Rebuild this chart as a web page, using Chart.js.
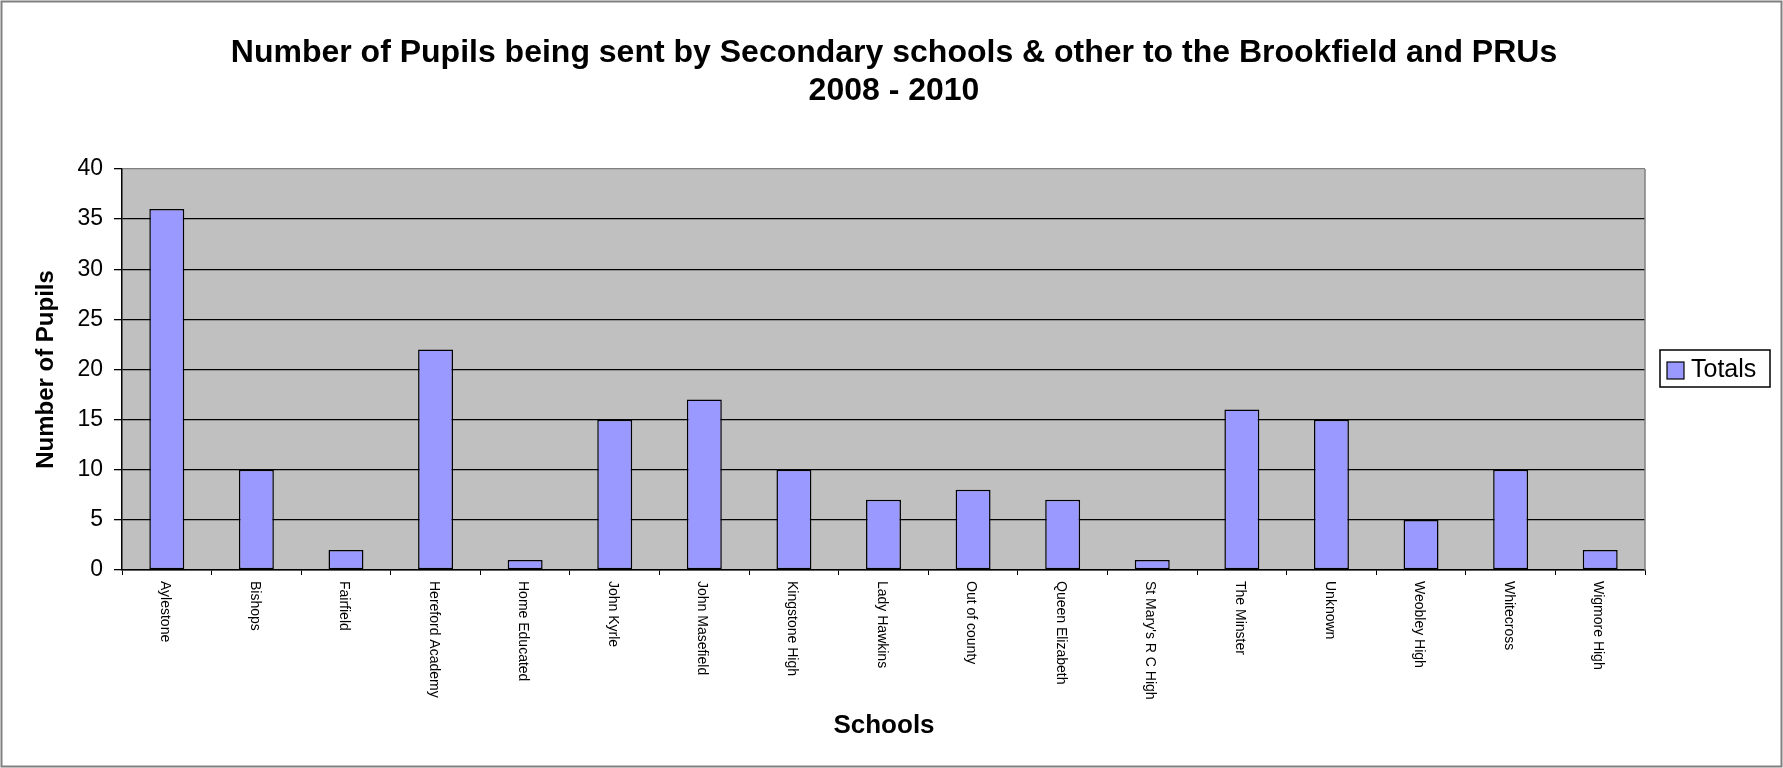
<!DOCTYPE html>
<html>
<head>
<meta charset="utf-8">
<script src="https://cdn.jsdelivr.net/npm/chart.js@4.4.0/dist/chart.umd.min.js"></script>
<style>
  html, body { margin: 0; padding: 0; background: #fff; }
  #wrap { width: 1783px; height: 768px; }
</style>
</head>
<body>
<div id="wrap"><canvas id="c" width="1783" height="768"></canvas></div>
<script>
const categories = ["Aylestone", "Bishops", "Fairfield", "Hereford Academy", "Home Educated", "John Kyrle", "John Masefield", "Kingstone High", "Lady Hawkins", "Out of county", "Queen Elizabeth", "St Mary's R C High", "The Minster", "Unknown", "Weobley High", "Whitecross", "Wigmore High"];
const totals = [36, 10, 2, 22, 1, 15, 17, 10, 7, 8, 7, 1, 16, 15, 5, 10, 2];
const yTicks = [0, 5, 10, 15, 20, 25, 30, 35, 40];
const seriesName = "Totals";
const titleLines = ["Number of Pupils being sent by Secondary schools & other to the Brookfield and PRUs", "2008 - 2010"];
const xTitle = "Schools";
const yTitle = "Number of Pupils";

const FONT = "'Liberation Sans', Arial, Helvetica, sans-serif";
const BAR_COLOR = "#9999FF";

const decor = {
  id: 'decor',
  beforeDraw(chart) {
    const ctx = chart.ctx, a = chart.chartArea;
    ctx.save();
    ctx.fillStyle = '#fff';
    ctx.fillRect(0, 0, chart.width, chart.height);
    ctx.fillStyle = '#C0C0C0';
    ctx.fillRect(a.left, a.top, a.right - a.left, a.bottom - a.top);
    ctx.restore();
  },
  afterDatasetsDraw(chart) {
    const ctx = chart.ctx, a = chart.chartArea;
    ctx.save();
    ctx.strokeStyle = '#808080';
    ctx.lineWidth = 1.5;
    ctx.beginPath();
    ctx.moveTo(a.right, a.top);
    ctx.lineTo(a.right, a.bottom);
    ctx.stroke();
    ctx.restore();
  },
  afterDraw(chart) {
    const ctx = chart.ctx;
    const xs = chart.scales.x;
    ctx.save();
    ctx.strokeStyle = '#808080';
    ctx.lineWidth = 2;
    ctx.strokeRect(1.5, 1.5, chart.width - 3, chart.height - 3);
    ctx.fillStyle = '#000';
    ctx.font = "bold 32px " + FONT;
    ctx.textAlign = 'center';
    ctx.textBaseline = 'alphabetic';
    ctx.fillText(titleLines[0], 894, 62);
    ctx.fillText(titleLines[1], 894, 100);
    ctx.font = "bold 26px " + FONT;
    ctx.fillText(xTitle, 884, 733);
    ctx.save();
    ctx.translate(53, 369.5);
    ctx.rotate(-Math.PI / 2);
    ctx.font = "bold 24px " + FONT;
    ctx.textAlign = 'center';
    ctx.fillText(yTitle, 0, 0);
    ctx.restore();
    ctx.font = "14px " + FONT;
    ctx.textAlign = 'left';
    ctx.textBaseline = 'middle';
    categories.forEach((lab, i) => {
      const x = xs.getPixelForValue(i);
      ctx.save();
      ctx.translate(x - 2, 581);
      ctx.rotate(Math.PI / 2);
      ctx.fillText(lab, 0, 0);
      ctx.restore();
    });
    ctx.fillStyle = '#fff';
    ctx.fillRect(1660, 350, 110, 37);
    ctx.strokeStyle = '#000';
    ctx.lineWidth = 1.5;
    ctx.strokeRect(1660, 350, 110, 37);
    ctx.fillStyle = BAR_COLOR;
    ctx.fillRect(1667, 362, 17, 17);
    ctx.lineWidth = 1.2;
    ctx.strokeRect(1667, 362, 17, 17);
    ctx.fillStyle = '#000';
    ctx.font = "25px " + FONT;
    ctx.textAlign = 'left';
    ctx.textBaseline = 'middle';
    ctx.fillText(seriesName, 1691, 370);
    ctx.restore();
  }
};

new Chart(document.getElementById('c'), {
  type: 'bar',
  data: {
    labels: categories,
    datasets: [{
      label: seriesName,
      data: totals,
      backgroundColor: BAR_COLOR,
      borderColor: '#000',
      borderWidth: 1.5,
      borderSkipped: false,
      barPercentage: 0.39,
      categoryPercentage: 1.0
    }]
  },
  options: {
    responsive: false,
    animation: false,
    devicePixelRatio: 1,
    layout: { padding: { top: 169, right: 138, bottom: 0, left: 0 } },
    plugins: {
      legend: { display: false },
      title: { display: false },
      tooltip: { enabled: false }
    },
    scales: {
      x: {
        type: 'category',
        offset: true,
        grid: { offset: true, drawOnChartArea: false, drawTicks: true, tickLength: 5, tickColor: '#000', color: '#000' },
        border: { display: true, color: '#000', width: 1.5 },
        ticks: { display: false },
        afterFit(scale) { scale.height = 198; }
      },
      y: {
        min: 0,
        max: 40,
        afterBuildTicks(scale) { scale.ticks = yTicks.map(v => ({ value: v })); },
        ticks: { color: '#000', font: { family: FONT, size: 23 }, padding: 11 },
        grid: {
          color: ctx => (ctx.tick && ctx.tick.value === 40) ? '#808080' : '#000',
          lineWidth: 1.3,
          drawTicks: true,
          tickLength: 8,
          tickColor: '#000'
        },
        border: { display: true, color: '#000', width: 1.5 },
        afterFit(scale) { scale.width = 122; }
      }
    }
  },
  plugins: [decor]
});
</script>
</body>
</html>
